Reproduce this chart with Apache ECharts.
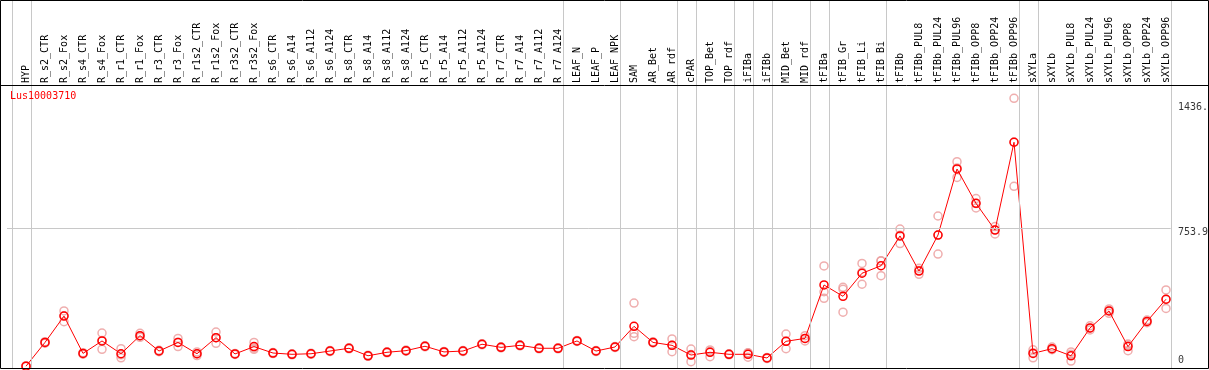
<!DOCTYPE html>
<html>
<head>
<meta charset="utf-8">
<script src="https://cdn.jsdelivr.net/npm/echarts@6/dist/echarts.min.js"></script>
<style>
  html, body { margin: 0; padding: 0; background: #fff; }
  #chart { width: 1209px; height: 370px; }
</style>
</head>
<body>
<div id="chart"></div>
<script>
var gene = 'Lus10003710';

var categories = [
  'HYP', 'R_s2_CTR', 'R_s2_Fox', 'R_s4_CTR', 'R_s4_Fox', 'R_r1_CTR', 'R_r1_Fox', 'R_r3_CTR', 'R_r3_Fox',
  'R_r1s2_CTR', 'R_r1s2_Fox', 'R_r3s2_CTR', 'R_r3s2_Fox', 'R_s6_CTR', 'R_s6_A14', 'R_s6_A112', 'R_s6_A124',
  'R_s8_CTR', 'R_s8_A14', 'R_s8_A112', 'R_s8_A124', 'R_r5_CTR', 'R_r5_A14', 'R_r5_A112', 'R_r5_A124',
  'R_r7_CTR', 'R_r7_A14', 'R_r7_A112', 'R_r7_A124', 'LEAF_N', 'LEAF_P', 'LEAF_NPK', 'SAM', 'AR_Bet', 'AR_rdf',
  'cPAR', 'TOP_Bet', 'TOP_rdf', 'iFIBa', 'iFIBb', 'MID_Bet', 'MID_rdf', 'tFIBa', 'tFIB_Gr', 'tFIB_Li', 'tFIB_Bi',
  'tFIBb', 'tFIBb_PUL8', 'tFIBb_PUL24', 'tFIBb_PUL96', 'tFIBb_OPP8', 'tFIBb_OPP24', 'tFIBb_OPP96',
  'sXYLa', 'sXYLb', 'sXYLb_PUL8', 'sXYLb_PUL24', 'sXYLb_PUL96', 'sXYLb_OPP8', 'sXYLb_OPP24', 'sXYLb_OPP96'
];

var meanValues = [
  0, 130, 274, 70, 138, 68, 167, 83, 130, 68, 156, 67, 107, 72, 65, 68, 83, 98, 57, 76, 85,
  109, 78, 83, 120, 103, 114, 98, 98, 138, 83, 105, 218, 130, 114, 61, 76, 65, 65, 45, 136, 152,
  444, 382, 508, 549, 712, 520, 717, 1078, 890, 744, 1224,
  70, 96, 57, 209, 302, 107, 245, 366
];

// three replicates per sample
var rep1 = [
  2, 134, 302, 74, 181, 96, 180, 87, 152, 78, 187, 70, 130, 75, 68, 71, 86, 101, 60, 79, 88,
  112, 81, 86, 123, 106, 117, 101, 101, 141, 86, 108, 345, 133, 149, 94, 89, 68, 72, 48, 176, 167,
  548, 431, 562, 577, 750, 535, 821, 1118, 916, 763, 1464,
  90, 105, 78, 221, 313, 121, 252, 417
];
var rep2 = [
  0, 126, 243, 66, 92, 46, 158, 79, 107, 58, 125, 64, 92, 69, 62, 65, 80, 95, 54, 73, 82,
  106, 75, 80, 117, 100, 111, 95, 95, 135, 80, 102, 161, 127, 79, 25, 52, 62, 49, 42, 96, 138,
  371, 295, 448, 495, 670, 502, 613, 1032, 865, 723, 983,
  46, 90, 28, 198, 289, 85, 238, 316
];
var rep3 = [
  0, 130, 276, 70, 140, 62, 165, 83, 131, 68, 156, 67, 100, 72, 65, 68, 83, 98, 57, 76, 85,
  109, 78, 83, 120, 103, 114, 98, 98, 138, 83, 105, 180, 130, 114, 64, 80, 65, 74, 45, 136, 152,
  407, 420, 514, 575, 716, 523, 717, 1084, 889, 746, 1225,
  74, 93, 65, 208, 304, 115, 245, 365
];

// index of the last sample in each group (-1 = left edge)
var groupEnds = [-1, 0, 28, 31, 34, 35, 37, 38, 39, 41, 42, 45, 52, 53, 60];

var yTickValues = [0, 753.9, 1436];
var yTickLabels = ['0', '753.9', '1436.'];
var refLineValue = 753.9;

var FONT = '"DejaVu Sans Mono", monospace';
var xMin = -1, xMax = 62.21;
var labelX = 60.63;

var chart = echarts.init(document.getElementById('chart'), null, { renderer: 'canvas' });

var repData = [];
categories.forEach(function (c, i) {
  repData.push([i, rep1[i]], [i, rep2[i]], [i, rep3[i]]);
});

chart.setOption({
  animation: false,
  title: {
    text: gene,
    left: 10,
    top: 91,
    padding: 0,
    textStyle: { color: '#ff0000', fontSize: 10, fontWeight: 'normal', fontFamily: FONT }
  },
  grid: { left: 7, right: 1, top: 0, bottom: 1, containLabel: false, outerBoundsMode: 'none' },
  xAxis: {
    type: 'value',
    position: 'top',
    offset: -85,
    min: xMin,
    max: xMax,
    interval: 1,
    axisLine: { show: false },
    axisTick: { show: false },
    splitLine: { show: false },
    axisLabel: {
      rotate: 90,
      margin: 2,
      fontSize: 10,
      fontFamily: FONT,
      color: '#000',
      formatter: function (v) {
        var i = Math.round(v);
        if (Math.abs(v - i) > 0.01) return '';
        return categories[i] || '';
      }
    }
  },
  yAxis: {
    type: 'value',
    min: -15.3,
    max: 2001.6,
    show: false
  },
  graphic: [
    { type: 'rect', shape: { x: 0.5, y: 0.5, width: 1208, height: 368 }, style: { fill: 'none', stroke: '#000', lineWidth: 1 }, z: 100 },
    { type: 'line', shape: { x1: 0.5, y1: 85.5, x2: 1208.5, y2: 85.5 }, style: { stroke: '#000', lineWidth: 1 }, z: 100 }
  ],
  series: [
    {
      type: 'line',
      data: [],
      silent: true,
      markLine: {
        silent: true,
        symbol: 'none',
        label: { show: false },
        lineStyle: { color: '#c8c8c8', width: 1, type: 'solid' },
        data: groupEnds.map(function (g) { return { xAxis: g + 0.25 }; }).concat([
          [{ coord: [xMin, refLineValue] }, { coord: [60.25, refLineValue] }]
        ])
      },
      z: 1
    },
    {
      type: 'scatter',
      data: repData,
      symbol: 'circle',
      symbolSize: 8,
      itemStyle: { color: 'transparent', borderColor: '#eb9a9a', borderWidth: 1.5 },
      silent: true,
      z: 2
    },
    {
      type: 'line',
      data: meanValues.map(function (v, i) { return [i, v]; }),
      symbol: 'circle',
      symbolSize: 8,
      lineStyle: { color: '#ff0000', width: 1 },
      itemStyle: { color: 'transparent', borderColor: '#ff0000', borderWidth: 1.5 },
      silent: true,
      z: 3
    },
    {
      type: 'scatter',
      symbolSize: 0,
      silent: true,
      z: 4,
      data: yTickValues.map(function (v, i) {
        return {
          value: [labelX, v],
          label: {
            show: true,
            formatter: yTickLabels[i],
            position: [0, -1],
            align: 'left',
            verticalAlign: v === 0 ? 'bottom' : 'top',
            color: '#000',
            fontSize: 10,
            fontFamily: FONT
          }
        };
      })
    }
  ]
});
</script>
</body>
</html>
